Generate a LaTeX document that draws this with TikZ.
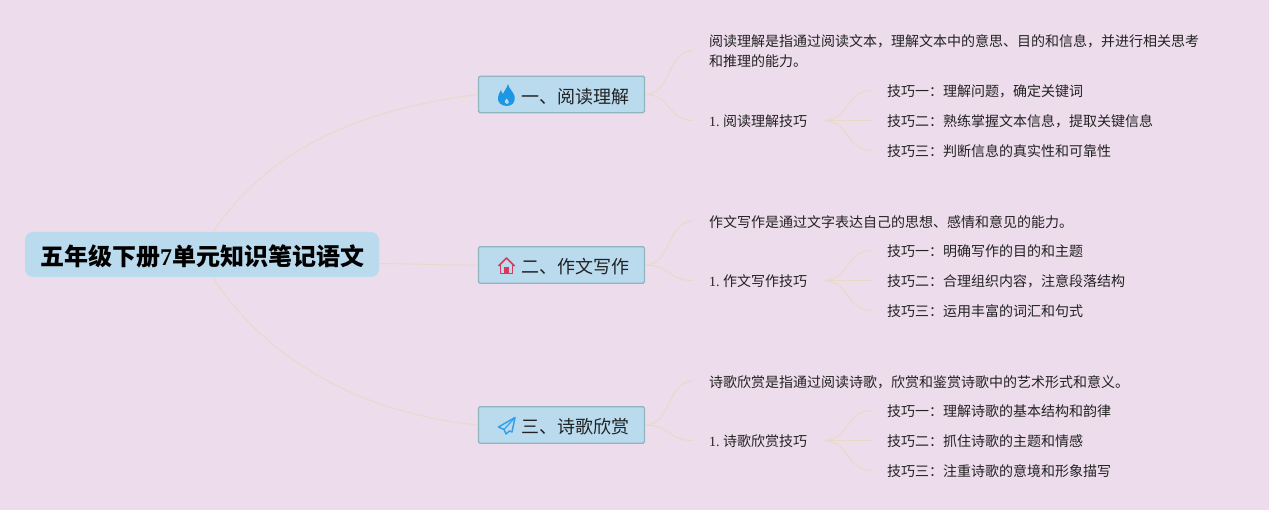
\documentclass[tikz,border=0pt]{standalone}
\usepackage{fontspec}
\usetikzlibrary{calc}
\setmainfont{Liberation Serif}
\newfontfamily\cjk{Noto Sans CJK SC}
\definecolor{bgc}{HTML}{EDDCEB}
\definecolor{boxc}{HTML}{BADAEE}
\definecolor{edgec}{HTML}{8FB5BF}
\definecolor{linkc}{HTML}{E9D9C8}
\definecolor{flamec}{HTML}{1E96E6}
\definecolor{housec}{HTML}{D63A5E}
\definecolor{inkc}{HTML}{222222}
\tikzset{
  rootbox/.style={fill=boxc,rounded corners=8pt,minimum width=354pt,minimum height=45pt,inner sep=0pt,text=black,font=\fontsize{24}{28}\selectfont\bfseries\cjk},
  catbox/.style={fill=boxc,draw=edgec,line width=1.4pt,rounded corners=1.5pt,minimum width=166pt,minimum height=36.5pt,inner sep=0pt,text=inkc},
  cattext/.style={text=inkc,inner sep=0pt,anchor=west,font=\fontsize{18}{22}\selectfont\cjk},
  leaf/.style={anchor=west,inner xsep=16pt,inner ysep=2pt,align=left,text=inkc,font=\fontsize{14}{20}\selectfont\cjk},
  tip/.style={anchor=west,inner xsep=15pt,inner ysep=2pt,text=inkc,font=\fontsize{14}{20}\selectfont\cjk},
  link/.style={draw=linkc,line width=1pt},
  thinlink/.style={draw=linkc,line width=0.9pt}
}
\newcommand{\latin}[1]{{\fontspec{Liberation Serif}#1}}
\begin{document}
\begin{tikzpicture}[x=1pt,y=-1pt]
\useasboundingbox (0,0) rectangle (1269,510);
\fill[bgc] (0,0) rectangle (1269,510);

\node[rootbox] (root) at (202,254.5) {\raisebox{-2pt}[\height][\depth]{五年级下册{\fontspec{Liberation Serif}\bfseries 7}单元知识笔记语文}};
\coordinate (roottop) at (213,232);
\coordinate (rootbot) at (213,277);
\coordinate (rootright) at (379,263.5);

\node[catbox] (c1) at (561.5,94.5) {};
\node[catbox] (c2) at (561.5,265) {};
\node[catbox] (c3) at (561.5,425) {};
\node[cattext] (c1t) at (521,97) {一、阅读理解};
\node[cattext] (c2t) at (521,267) {二、作文写作};
\node[cattext] (c3t) at (521,427) {三、诗歌欣赏};

% section 1
\node[leaf] (d1) at (693,51.5) {阅读理解是指通过阅读文本，理解文本中的意思、目的和信息，并进行相关思考\\和推理的能力。};
\node[leaf] (s1) at (693,121.5) {\latin{1.\kern3.5pt}阅读理解技巧};
\node[tip] (t11) at (872,91.5) {技巧一：理解问题，确定关键词};
\node[tip] (t12) at (872,121.5) {技巧二：熟练掌握文本信息，提取关键信息};
\node[tip] (t13) at (872,151.5) {技巧三：判断信息的真实性和可靠性};
% section 2
\node[leaf] (d2) at (693,222) {作文写作是通过文字表达自己的思想、感情和意见的能力。};
\node[leaf] (s2) at (693,281.5) {\latin{1.\kern3.5pt}作文写作技巧};
\node[tip] (t21) at (872,251.5) {技巧一：明确写作的目的和主题};
\node[tip] (t22) at (872,281.5) {技巧二：合理组织内容，注意段落结构};
\node[tip] (t23) at (872,311.5) {技巧三：运用丰富的词汇和句式};
% section 3
\node[leaf] (d3) at (693,382) {诗歌欣赏是指通过阅读诗歌，欣赏和鉴赏诗歌中的艺术形式和意义。};
\node[leaf] (s3) at (693,441.5) {\latin{1.\kern3.5pt}诗歌欣赏技巧};
\node[tip] (t31) at (872,411.5) {技巧一：理解诗歌的基本结构和韵律};
\node[tip] (t32) at (872,441.5) {技巧二：抓住诗歌的主题和情感};
\node[tip] (t33) at (872,471.5) {技巧三：注重诗歌的意境和形象描写};

% root connectors
\draw[thinlink] (roottop) .. controls (262,160) and (340,112) .. (c1.west);
\draw[thinlink] (rootright) .. controls (420,264) and (440,265) .. (c2.west);
\draw[thinlink] (rootbot) .. controls (255,345) and (345,412) .. (c3.west);

% branch connectors
\foreach \c/\d/\s in {c1/d1/s1,c2/d2/s2,c3/d3/s3}{
  \draw[link] (\c.east) .. controls ($(\c.east)+(26,0)$) and ($(\d.west)+(-26,-1)$) .. ($(\d.west)+(0,-1)$);
  \draw[link] (\c.east) .. controls ($(\c.east)+(26,0)$) and ($(\s.west)+(-26,-1)$) .. ($(\s.west)+(0,-1)$);
}
\foreach \s/\a/\b/\e in {s1/t11/t12/t13,s2/t21/t22/t23,s3/t31/t32/t33}{
  \draw[link] ($(\s.east)+(0,-1)$) .. controls ($(\s.east)+(26,-1)$) and ($(\a.west)+(-26,-1)$) .. ($(\a.west)+(0,-1)$);
  \draw[link] ($(\s.east)+(0,-1)$) -- ($(\b.west)+(0,-1)$);
  \draw[link] ($(\s.east)+(0,-1)$) .. controls ($(\s.east)+(26,-1)$) and ($(\e.west)+(-26,-1)$) .. ($(\e.west)+(0,-1)$);
}

% flame icon
\fill[flamec] (508,84) .. controls (509,89) and (513,91) .. (514.5,96)
  .. controls (516,102) and (512,106) .. (507,106)
  .. controls (501,106) and (497,102) .. (498,97)
  .. controls (498.5,94) and (500,92) .. (501,90)
  .. controls (501.5,92) and (502,93) .. (503,94)
  .. controls (504,91) and (507,88) .. (508,84) -- cycle;
\fill[boxc] (507,104) .. controls (504.5,104) and (504,101.5) .. (506.5,98.5) .. controls (509.5,101.5) and (509.5,104) .. (507,104) -- cycle;
% house icon
\draw[housec,line width=1.6pt,line join=round] (498.5,266) -- (506.5,258) -- (514.5,266);
\draw[housec,line width=1.6pt,line join=round] (500.5,265) -- (500.5,273.5) -- (512.5,273.5) -- (512.5,265);
\fill[housec] (504,273.5) -- (504,267) -- (509,267) -- (509,273.5) -- cycle;
% plane icon
\draw[flamec!90!white,line width=1.5pt,line join=round] (515,417.5) -- (498.5,427) -- (504,429.5) -- (506,434) -- (509.5,431) -- (512,432) -- cycle;
\draw[flamec!90!white,line width=1.2pt,line join=round] (515,417.5) -- (504,429.5);
\end{tikzpicture}
\end{document}
